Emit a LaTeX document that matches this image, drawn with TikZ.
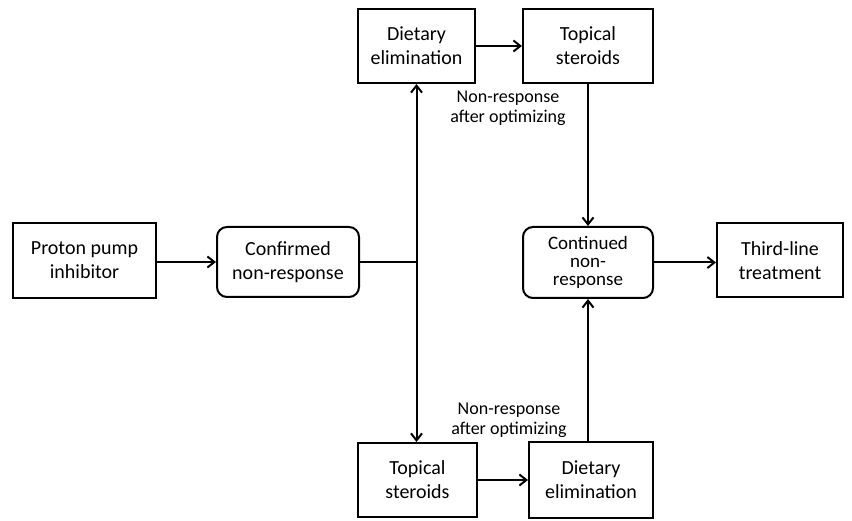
\documentclass[tikz,border=0pt]{standalone}
\usepackage{fontspec}
\setmainfont{Carlito}
\usepackage{tikz}
\usetikzlibrary{arrows.meta, calc, positioning}

\begin{document}
\begin{tikzpicture}[x=1pt, y=-1pt, line width=2pt,
  box/.style={draw, align=center, inner sep=2pt, font=\fontsize{20}{24}\selectfont},
  rbox/.style={box, rounded corners=10pt},
  note/.style={align=center, font=\fontsize{18}{20}\selectfont},
  arr/.style={-{Straight Barb[length=7pt, width=11pt, line width=2pt]}}]
\useasboundingbox (0,0) rectangle (852,521);

\node[box, minimum width=143pt, minimum height=75pt] (ppi) at (84.5,260.5) {Proton pump\\inhibitor};
\node[rbox, minimum width=142pt, minimum height=70pt] (conf) at (288,262) {Confirmed\\non-response};
\node[box, minimum width=117pt, minimum height=74pt] (diet1) at (416.5,46) {Dietary\\elimination};
\node[box, minimum width=130pt, minimum height=74pt] (topi1) at (588,46) {Topical\\steroids};
\node[rbox, minimum width=130pt, minimum height=71pt, font=\fontsize{19}{18}\selectfont] (cont) at (588,262.5) {Continued\\non-\\response};
\node[box, minimum width=126pt, minimum height=74pt] (third) at (780,260.5) {Third-line\\treatment};
\node[box, minimum width=119pt, minimum height=74pt] (topi2) at (417.5,480) {Topical\\steroids};
\node[box, minimum width=124pt, minimum height=76pt] (diet2) at (591,480) {Dietary\\elimination};

\node[note] (note1) at (508,108) {Non-response\\after optimizing};
\node[note] (note2) at (509,420) {Non-response\\after optimizing};

\coordinate (split) at (416.5,262);

% first line
\draw[arr] (ppi.east |- conf) -- (conf.west);
\draw (conf.east) -- (split);

% two branches
\draw[arr] (split) -- (split |- diet1.south);
\draw[arr] (split) -- (split |- topi2.north);
\draw[arr] (diet1.east) -- (topi1.west);
\draw[arr] (topi2.east) -- (diet2.west);

% back to continued non-response
\draw[arr] (topi1.south -| cont) -- (cont.north);
\draw[arr] (diet2.north -| cont) -- (cont.south);
\draw[arr] (cont.east) -- (third.west |- cont);
\end{tikzpicture}
\end{document}
